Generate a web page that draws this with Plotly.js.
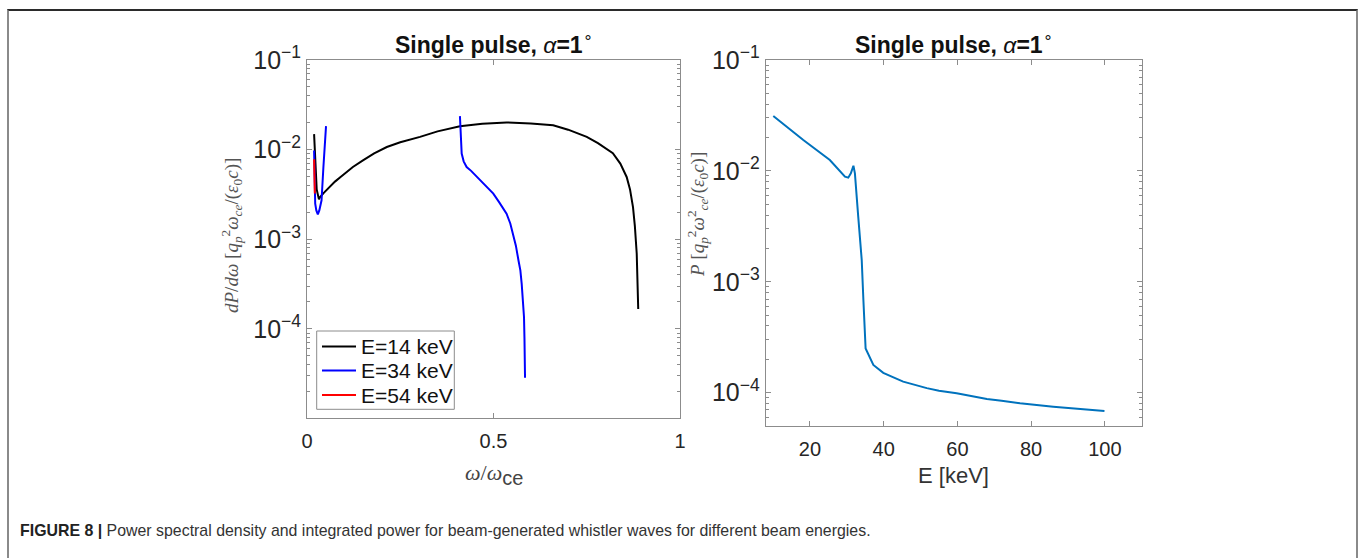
<!DOCTYPE html>
<html>
<head>
<meta charset="utf-8">
<script src="https://cdn.plot.ly/plotly-3.0.1.min.js"></script>
<style>
  html, body { margin: 0; padding: 0; background: #fff; }
  #wrap { position: relative; width: 1360px; height: 558px; overflow: hidden; }
  #chart { position: absolute; left: 0; top: 0; width: 1360px; height: 558px; }
  #frame { position: absolute; left: 7px; top: 9px; width: 1347px; height: 560px;
           border-top: 2px solid #2b2b2b; border-left: 2px solid #8a8a8a; border-right: 2px solid #8a8a8a;
           pointer-events: none; }
  #caption { position: absolute; left: 20px; top: 521px; font-family: "Liberation Sans", Arial, sans-serif;
             font-size: 17px; color: #333; white-space: nowrap; transform: scaleX(0.935); transform-origin: left center; }
  #caption b { color: #222; }
</style>
</head>
<body>
<div id="wrap">
  <div id="chart"></div>
  <div id="frame"></div>
  <div id="caption"><b>FIGURE 8 |</b> Power spectral density and integrated power for beam-generated whistler waves for different beam energies.</div>
</div>
<script>
// ---- Left panel: power spectral density vs omega/omega_ce ----
const e14_w = [0.019, 0.022, 0.026, 0.032, 0.035, 0.045, 0.06, 0.075, 0.09, 0.105, 0.123, 0.15, 0.18, 0.214, 0.25, 0.303, 0.35, 0.410, 0.47, 0.535, 0.60, 0.66, 0.70, 0.75, 0.78, 0.82, 0.84, 0.857, 0.866, 0.874, 0.879, 0.884, 0.886, 0.888];
const e14_p = [0.0149, 0.0075, 0.0036, 0.00279, 0.00296, 0.0033, 0.00383, 0.0044, 0.00496, 0.0056, 0.0064, 0.0076, 0.0091, 0.0107, 0.0121, 0.01387, 0.0160, 0.01828, 0.0195, 0.0201, 0.0196, 0.01875, 0.0167, 0.01387, 0.0118, 0.00912, 0.0070, 0.00496, 0.0036, 0.00229, 0.0014, 0.00069, 0.0004, 0.000167];

const e34a_w = [0.019, 0.0195, 0.020, 0.022, 0.025, 0.029, 0.033, 0.036, 0.039, 0.044, 0.048, 0.050, 0.051];
const e34a_p = [0.0098, 0.0065, 0.0035, 0.0025, 0.0021, 0.00189, 0.0021, 0.0025, 0.00272, 0.0064, 0.0128, 0.0165, 0.0183];
const e34b_w = [0.410, 0.411, 0.412, 0.4147, 0.42, 0.428, 0.44, 0.464, 0.48, 0.4995, 0.515, 0.535, 0.545, 0.553, 0.560, 0.567, 0.572, 0.5756, 0.579, 0.5818, 0.583, 0.5845];
const e34b_p = [0.02365, 0.017, 0.0125, 0.00904, 0.0074, 0.0064, 0.0058, 0.00455, 0.0039, 0.00323, 0.0026, 0.00193, 0.0015, 0.00115, 0.00085, 0.00058, 0.00045, 0.000318, 0.00022, 0.000135, 0.00008, 0.0000286];

const e54_w = [0.019, 0.0195, 0.020, 0.021];
const e54_p = [0.00781, 0.0055, 0.0040, 0.00325];

const legendNames = ["E=14 keV", "E=34 keV", "E=54 keV"];
const legendColors = ["#000000", "#0000ff", "#ff0000"];

// ---- Right panel: integrated power vs beam energy ----
const energy = [10.06, 18.2, 25.4, 29.5, 30.4, 31.1, 31.8, 32.2, 33.1, 34.05, 34.5, 35.1, 37.2, 39.9, 42.5, 45.3, 51.7, 55.0, 59.8, 63.5, 68.0, 72.0, 77.0, 86.0, 94.0, 99.9];
const power  = [0.0313, 0.019, 0.01253, 0.00887, 0.00869, 0.0095, 0.01114, 0.0095, 0.00387, 0.00157, 0.000686, 0.000251, 0.000178, 0.000151, 0.000138, 0.000126, 0.000110, 0.000104, 0.0000988, 0.0000935, 0.0000878, 0.0000845, 0.0000802, 0.0000748, 0.000071, 0.0000684];

const leftXTicks = [0, 0.5, 1];
const rightXTicks = [20, 40, 60, 80, 100];

const W = 1360, H = 558;
const px = v => v / W;
const py = v => 1 - v / H;

const sans = "Liberation Sans, Arial, Helvetica, sans-serif";
const serif = "Liberation Serif, DejaVu Serif, Times New Roman, serif";
const axisGray = "#8c8c8c";
const tickFont = {family: sans, size: 20, color: "#262626"};

const traces = [
  {x: e14_w, y: e14_p, mode: "lines", name: legendNames[0], line: {color: legendColors[0], width: 2}, xaxis: "x", yaxis: "y"},
  {x: e34a_w, y: e34a_p, mode: "lines", name: legendNames[1], line: {color: legendColors[1], width: 2}, xaxis: "x", yaxis: "y"},
  {x: e34b_w, y: e34b_p, mode: "lines", name: legendNames[1], line: {color: legendColors[1], width: 2}, xaxis: "x", yaxis: "y"},
  {x: e54_w, y: e54_p, mode: "lines", name: legendNames[2], line: {color: legendColors[2], width: 2}, xaxis: "x", yaxis: "y"},
  {x: energy, y: power, mode: "lines", name: "P", line: {color: "#0072bd", width: 2}, xaxis: "x2", yaxis: "y2"}
];

function xaxisCfg(domain, range, ticks, anchor) {
  return {
    domain: domain, range: range, anchor: anchor,
    tickmode: "array", tickvals: ticks,
    ticks: "inside", ticklen: 5, tickcolor: axisGray, tickwidth: 1,
    showline: true, linecolor: axisGray, linewidth: 1, mirror: "allticks",
    showgrid: false, zeroline: false, tickfont: tickFont, ticklabelstandoff: 5
  };
}
function yaxisCfg(domain, range, anchor) {
  return {
    type: "log", domain: domain, range: range, anchor: anchor,
    dtick: 1, exponentformat: "power", showexponent: "all",
    ticks: "inside", ticklen: 5, tickcolor: axisGray, tickwidth: 1,
    minor: {ticks: "inside", ticklen: 3, tickcolor: axisGray, dtick: "D1", showgrid: false},
    showline: true, linecolor: axisGray, linewidth: 1, mirror: "allticks",
    showgrid: false, zeroline: false, tickfont: tickFont, ticklabelstandoff: 1
  };
}

const titleText = "<b>Single pulse, </b><i>α</i><b>=1</b><sup>∘</sup>";
const ann = (text, x, y, font, extra) => Object.assign({
  text: text, x: px(x), y: py(y), xref: "paper", yref: "paper", showarrow: false,
  xanchor: "center", yanchor: "middle", font: font
}, extra || {});

// Legend (MATLAB-style compact box)
const legX0 = 316.7, legY0 = 331, legX1 = 454.3, legY1 = 409.3;
const legRows = [346.5, 370.5, 395];
const shapes = [
  {type: "rect", xref: "paper", yref: "paper", x0: px(legX0), x1: px(legX1), y0: py(legY1), y1: py(legY0),
   line: {color: "#8c8c8c", width: 1}, fillcolor: "#ffffff", layer: "above"}
];
const annotations = [
  ann(titleText, 493.5, 43, {family: sans, size: 23, color: "#111"}),
  ann(titleText, 953.7, 43, {family: sans, size: 23, color: "#111"}),
  ann("<i>ω</i>/<i>ω</i><sub><span style='font-family:Liberation Sans;font-size:20px'>ce</span></sub>", 493.5, 474, {family: serif, size: 22, color: "#444"}),
  ann("E [keV]", 953.7, 476, {family: sans, size: 22, color: "#333"}),
  ann("<i>dP</i>/<i>dω</i> [<i>q</i><sub><i>p</i></sub><sup>2</sup><i>ω</i><sub><i>ce</i></sub>/(<i>ε</i><sub>0</sub><i>c</i>)]",
      231, 236, {family: serif, size: 19, color: "#555"}, {textangle: -90}),
  ann("<i>P</i> [<i>q</i><sub><i>p</i></sub><sup>2</sup><i>ω</i><sup>2</sup><sub><i>ce</i></sub>/(<i>ε</i><sub>0</sub><i>c</i>)]",
      698, 214, {family: serif, size: 19, color: "#555"}, {textangle: -90})
];
legendNames.forEach((nm, i) => {
  shapes.push({type: "line", xref: "paper", yref: "paper", x0: px(322), x1: px(356), y0: py(legRows[i]), y1: py(legRows[i]),
               line: {color: legendColors[i], width: 2}, layer: "above"});
  annotations.push(ann(nm, 359, legRows[i], {family: sans, size: 21, color: "#111"}, {xanchor: "left"}));
});

const layout = {
  width: W, height: H,
  margin: {l: 0, r: 0, t: 0, b: 0},
  paper_bgcolor: "rgba(0,0,0,0)", plot_bgcolor: "#ffffff",
  showlegend: false,
  xaxis: xaxisCfg([px(307), px(680)], [0, 1], leftXTicks, "y"),
  yaxis: yaxisCfg([py(417.7), py(60)], [-4.99, -1], "x"),
  xaxis2: xaxisCfg([px(765.7), px(1141.7)], [8, 110], rightXTicks, "y2"),
  yaxis2: yaxisCfg([py(426), py(60)], [-4.3, -1], "x2"),
  shapes: shapes,
  annotations: annotations
};

Plotly.newPlot("chart", traces, layout, {staticPlot: true, displayModeBar: false});
</script>
</body>
</html>
